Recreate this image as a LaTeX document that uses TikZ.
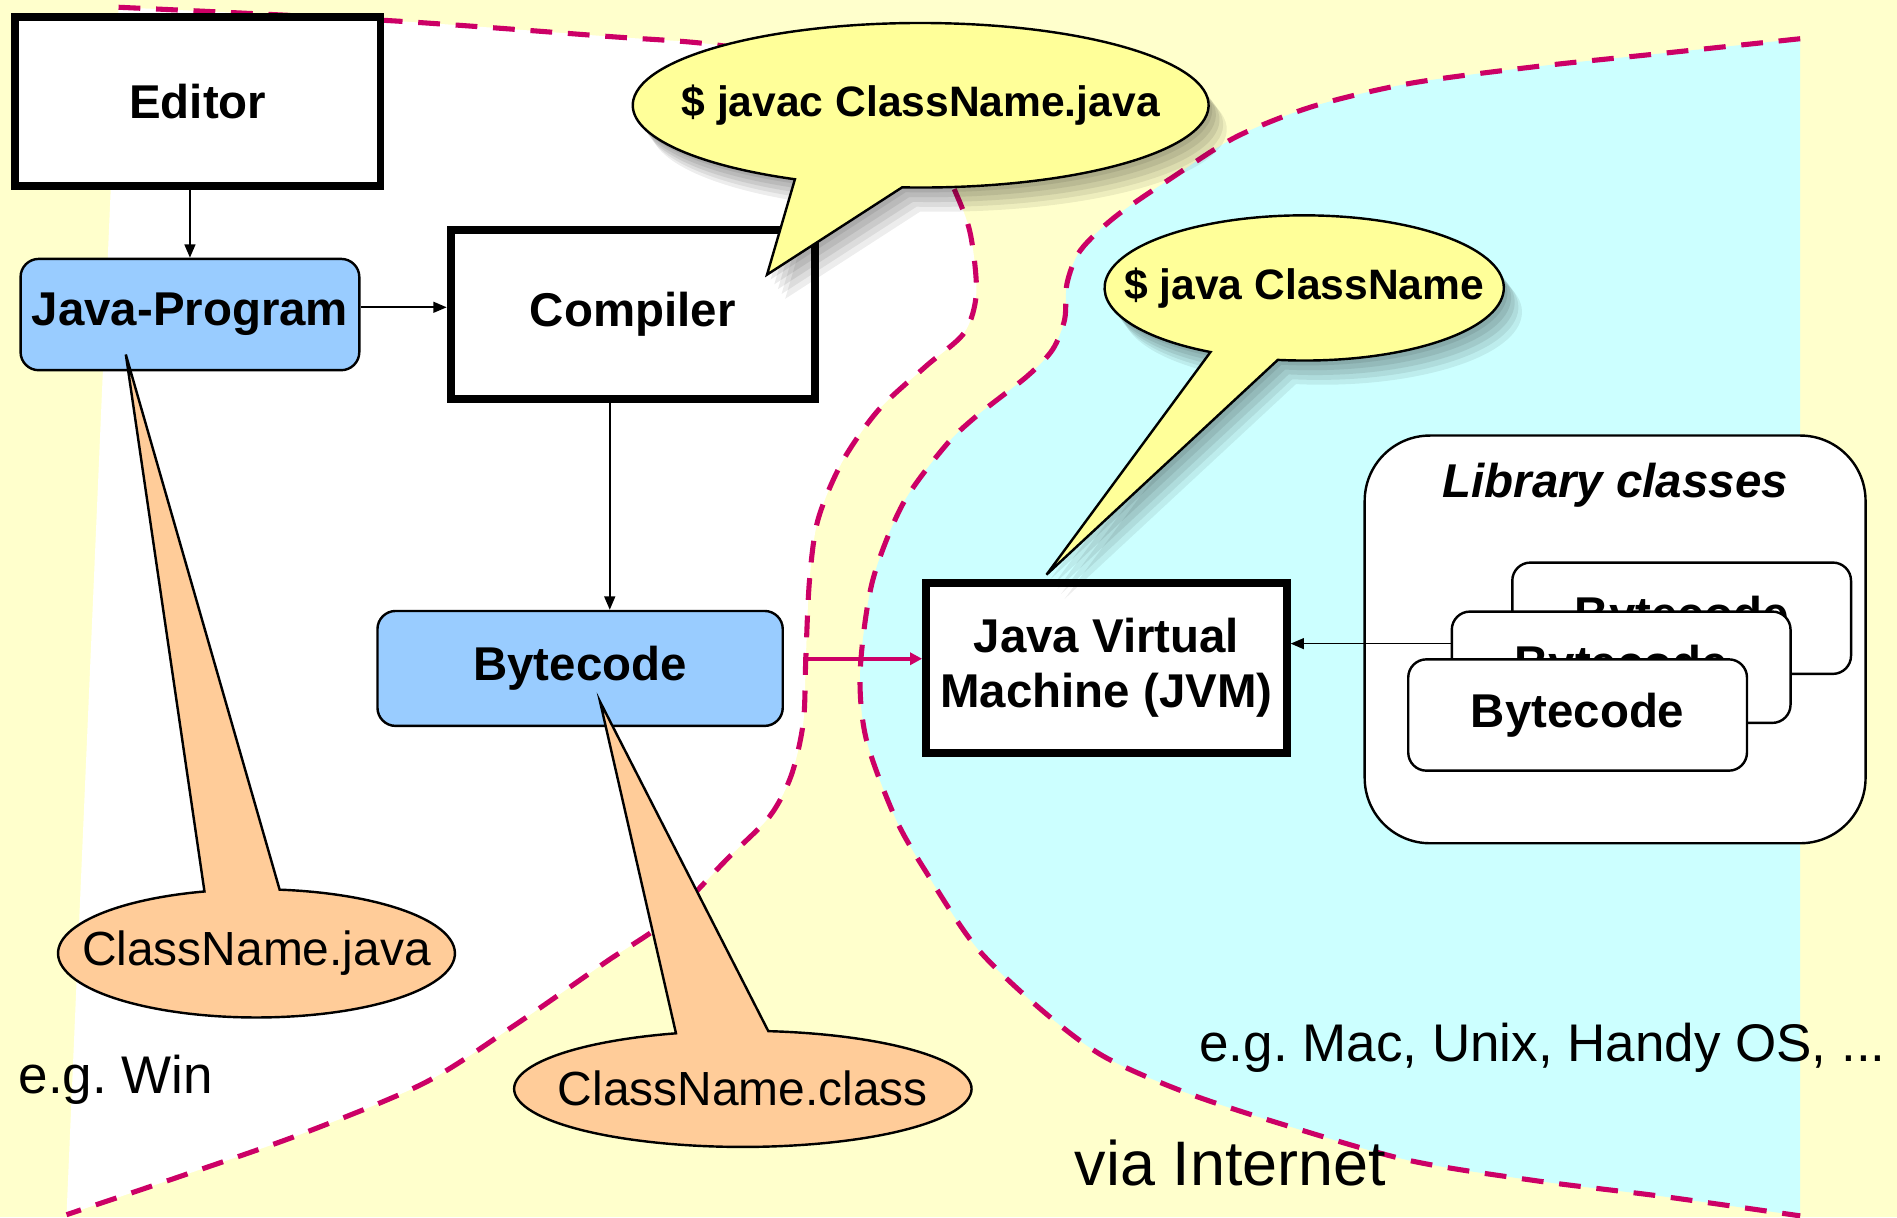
\documentclass[tikz,border=0pt]{standalone}
\usepackage{fontspec}
\setmainfont{Liberation Sans}
\usetikzlibrary{arrows.meta, shadows}

\definecolor{bgyellow}{HTML}{FFFFCC}
\definecolor{netcyan}{HTML}{CCFFFF}
\definecolor{codeblue}{HTML}{99CCFF}
\definecolor{callyellow}{HTML}{FFFF99}
\definecolor{fileorange}{HTML}{FFCC99}
\definecolor{netmagenta}{HTML}{CC0066}

\newcommand{\boxfont}{\fontsize{19.6}{22.5}\selectfont\bfseries}
\newcommand{\callfont}{\fontsize{17.6}{21}\selectfont\bfseries}
\newcommand{\filefont}{\fontsize{19.8}{23.8}\selectfont}
\newcommand{\osfont}{\fontsize{21.9}{26}\selectfont}
\newcommand{\netfont}{\fontsize{26}{31}\selectfont}
\frenchspacing

\tikzset{
	thickbox/.style={draw, line width=3.3pt, fill=white, inner sep=0pt, font=\boxfont},
	codebox/.style={draw, line width=1pt, fill=codeblue, rounded corners=7.5pt, inner sep=0pt, font=\boxfont},
	classbox/.style={draw, line width=1pt, fill=white, rounded corners=7.5pt, inner sep=0pt,
		minimum width=140pt, minimum height=46pt, font=\boxfont},
	libbox/.style={draw, line width=1pt, fill=white, rounded corners=27pt, inner sep=0pt},
	netline/.style={draw=netmagenta, line width=2.1pt, dash pattern=on 9pt off 6.5pt},
	arr/.style={line width=0.7pt, -{Triangle[length=5.5pt, width=4.5pt]}},
	netarr/.style={netmagenta, line width=1.5pt, -{Triangle[length=5pt, width=5pt]}},
	callout/.style={draw, line width=1pt, fill=callyellow,
		drop shadow={shadow xshift=7.5pt, shadow yshift=-10pt, opacity=0.07, fill=black},
		drop shadow={shadow xshift=6pt, shadow yshift=-8pt, opacity=0.07, fill=black},
		drop shadow={shadow xshift=4.5pt, shadow yshift=-6pt, opacity=0.08, fill=black},
		drop shadow={shadow xshift=3pt, shadow yshift=-4pt, opacity=0.08, fill=black},
		drop shadow={shadow xshift=1.5pt, shadow yshift=-2pt, opacity=0.08, fill=black}},
	fileout/.style={draw, line width=1pt, fill=fileorange},
	label text/.style={inner sep=0pt, anchor=base west}
}

\begin{document}
\begin{tikzpicture}[x=0.5pt, y=0.5pt]
	\useasboundingbox (0,0) rectangle (1568,-1006);
	\fill[bgyellow] (0,0) rectangle (1568,-1006);

	% target machine and developer machine
	\draw[netline, fill=netcyan] plot[smooth] coordinates {(1488,-32) (1375,-44) (1270,-55) (1165,-69) (1085,-88)
		(1022,-113) (970,-146) (922,-179) (893,-207) (882,-234) (880,-264) (870,-289) (849,-311) (807,-344)
		(781,-369) (746,-417) (721,-481) (711,-555) (716,-611) (740,-676) (765,-720) (807,-783) (860,-834)
		(912,-873) (980,-903) (1059,-929) (1164,-959) (1270,-976) (1375,-989) (1488,-1005)};
	\draw[netline, fill=white] plot[smooth] coordinates {(98,-6) (321,-17) (501,-30) (591,-37) (690,-55)
		(760,-95) (789,-157) (802,-193) (807,-242) (797,-275) (765,-303) (726,-339) (696,-382) (676,-430)
		(669,-481) (666,-546) (664,-597) (654,-641) (636,-675) (601,-710) (551,-761) (501,-795) (426,-847)
		(351,-895) (250,-937) (150,-972) (55,-1004)};

	\node[thickbox, minimum width=151pt, minimum height=70pt] (editor) at (163.5,-84) {Editor};
	\node[codebox, minimum width=140pt, minimum height=46pt] (jprog) at (157,-260) {Java-Program};
	\node[thickbox, minimum width=150.5pt, minimum height=69.5pt] (compiler) at (523,-260) {Compiler};
	\node[codebox, minimum width=167.5pt, minimum height=47.5pt] (bcode) at (479.5,-552.5) {Bytecode};
	\node[thickbox, align=center, minimum width=149pt, minimum height=70.5pt] (jvm) at (914.5,-552)
		{Java Virtual\\Machine (JVM)};

	\node[libbox, minimum width=207pt, minimum height=168.5pt] (lib) at (1335,-528.5) {};
	\node[font=\boxfont\itshape] (libtitle) at (1335,-401) {Library classes};
	\node[classbox] (bcback) at (1390,-511) {Bytecode};
	\node[classbox] (bcmid) at (1340,-551.5) {Bytecode};
	\node[classbox] (bcfront) at (1304,-591) {Bytecode};

	\draw[arr] (editor.south -| jprog.north) -- (jprog.north);
	\draw[arr] ([yshift=3pt]jprog.east) -- ([yshift=3pt]jprog.east -| compiler.west);
	\draw[arr] ([xshift=-9.5pt]compiler.south) -- ([xshift=-9.5pt]compiler.south |- bcode.north);
	\draw[netarr] ([xshift=8pt, yshift=4pt]bcode.east) -- ([yshift=4pt]bcode.east -| jvm.west);
	\draw[arr] ([yshift=9.75pt]bcmid.west) -- ([yshift=9.75pt]bcmid.west -| jvm.east);

	% commands
	\path[callout] (761,-87) ++(266.3:238 and 68) arc[start angle=266.3, end angle=604.1, x radius=238, y radius=68]
		-- (634,-227) -- cycle;
	\node[font=\callfont] (javac) at (761,-87) {\$ javac ClassName.java};
	\path[callout] (1078,-238) ++(262.4:165 and 60) arc[start angle=262.4, end angle=602, x radius=165, y radius=60]
		-- (865,-475) -- cycle;
	\node[font=\callfont] (java) at (1078,-238) {\$ java ClassName};

	% files
	\path[fileout] (212,-788) ++(105.2:164 and 53) arc[start angle=105.2, end angle=443.3, x radius=164, y radius=53]
		-- (104,-293) -- cycle;
	\node[font=\filefont] (srcfile) at (212,-788) {ClassName.java};
	\path[fileout] (614,-900) ++(107:189 and 48) arc[start angle=107, end angle=443.6, x radius=189, y radius=48]
		-- (496,-580) -- cycle;
	\node[font=\filefont] (classfile) at (614,-900) {ClassName.class};

	\node[label text, font=\osfont] (winos) at (15,-904) {e.g. Win};
	\node[label text, font=\osfont] (otheros) at (991,-877) {e.g. Mac, Unix, Handy OS, ...};
	\node[label text, font=\netfont] (internet) at (888,-980) {via Internet};
\end{tikzpicture}
\end{document}
